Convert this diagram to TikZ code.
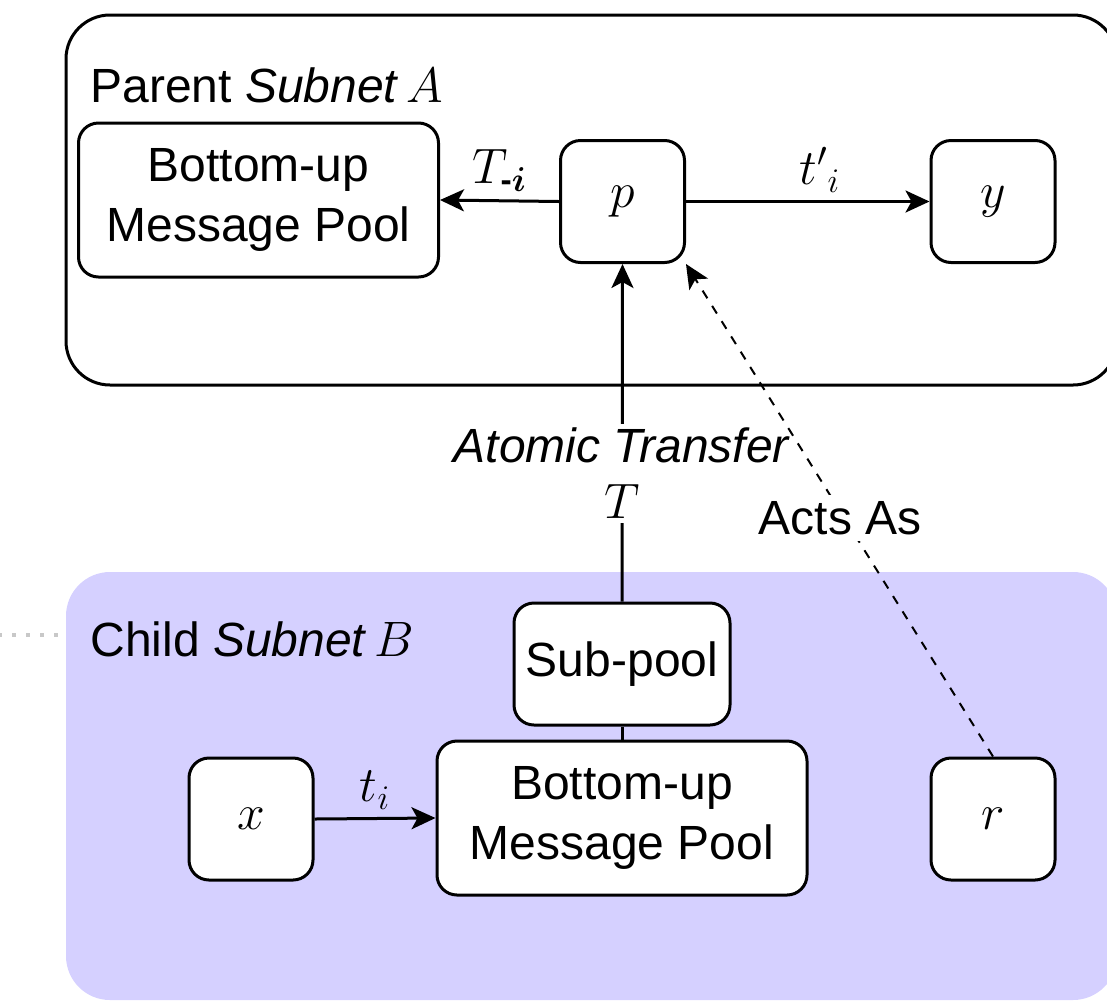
\documentclass[tikz,border=0pt]{standalone}
\usepackage{amsmath,bm}
\usepackage{fontspec}
\setmainfont{Liberation Sans}
\usetikzlibrary{arrows.meta}
\definecolor{childfill}{RGB}{213,208,255}
\definecolor{dotgray}{RGB}{200,200,200}
\begin{document}
\begin{tikzpicture}[x=0.5pt,y=-0.5pt,
  every node/.style={font=\fontsize{24pt}{30pt}\selectfont},
  container/.style={rounded corners=22pt},
  leaf/.style={draw,line width=1.5pt,rounded corners=10pt,fill=white,
    minimum width=62pt,minimum height=61pt,inner sep=0pt,align=center},
  pool/.style={leaf,minimum width=180pt,minimum height=77pt},
  flow/.style={line width=1.5pt,-{Stealth[length=12pt,width=11pt,inset=3pt]}},
  link/.style={line width=1.5pt},
  actsas/.style={line width=1pt,dash pattern=on 4.5pt off 4.5pt,
    -{Stealth[length=12pt,width=11pt,inset=3pt]}},
  lbl/.style={inner sep=1pt},
  bglbl/.style={fill=white,inner sep=2pt,align=center}]
\useasboundingbox (0,0) rectangle (1107,1002);
\begin{scope}
\clip (0,0) rectangle (1107,1002);
% subnets
\draw[container,line width=1.5pt] (66,15) rectangle (1117,385);
\fill[container,childfill] (66,572) rectangle (1117,1000);
\coordinate (dl) at (-2,635);
\coordinate (dr) at (60,635);
\draw[dotgray,line width=2pt,dash pattern=on 2pt off 5pt] (dl) -- (dr);
\end{scope}

\node[lbl,anchor=base west] (parentlbl) at (88,102) {Parent \textit{Subnet}\,$A$};
\node[lbl,anchor=base west] (childlbl) at (88,656) {Child \textit{Subnet}\,$B$};

% parent subnet
\node[pool] (poolA) at (258.5,200) {Bottom-up\\Message Pool};
\node[leaf] (p) at (622.5,201.5) {$p$};
\node[leaf] (y) at (993,201.5) {$y$};

% child subnet
\node[leaf,minimum width=108pt] (sub) at (622,664) {Sub-pool};
\node[pool,minimum width=185pt] (poolB) at (622,818) {Bottom-up\\Message Pool};
\node[leaf] (x) at (251,819) {$x$};
\node[leaf] (r) at (993,819) {$r$};

% connectors
\draw[flow] (p.west) -- (poolA.east)
  node[lbl,pos=0.5,above=3pt] (tmi) {$T_{\textbf{-}\bm{i}}$};
\draw[flow] (p.east) -- (y.west)
  node[lbl,pos=0.55,above=3pt] (tpi) {${t'}_{i}$};
\draw[flow] (x.east) -- (poolB.west)
  node[lbl,pos=0.5,above=3pt] (ti) {$t_i$};
\draw[link] (sub.south) -- (poolB.north);
\draw[flow] (sub.north) -- (p.south)
  node[bglbl,pos=0.38] (atomic) {\textit{Atomic Transfer}\\[-2pt]$T$};
\draw[actsas] (r.north) -- (p.south east);
\node[bglbl,inner sep=3pt] (acts) at (840,518) {Acts As};
\end{tikzpicture}
\end{document}
